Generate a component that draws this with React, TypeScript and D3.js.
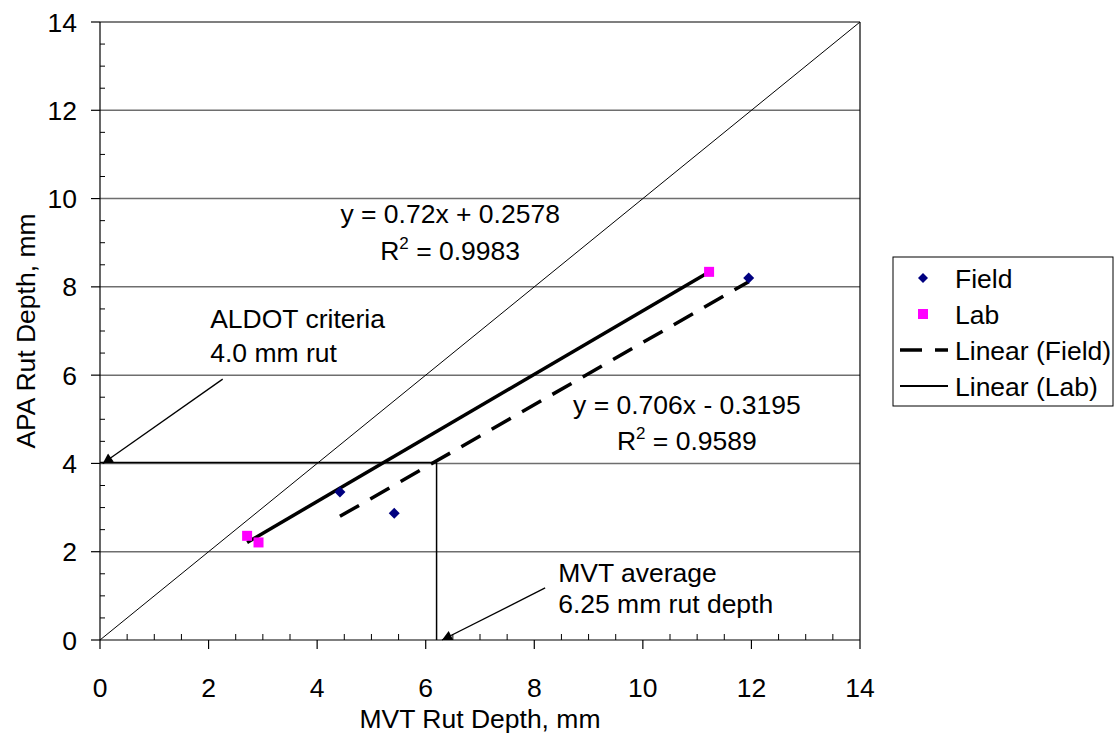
import React from "react";
import * as d3 from "d3";

const fieldX = [4.42, 5.42, 11.95];
const fieldY = [3.35, 2.87, 8.2];
const labX = [2.71, 2.92, 11.22];
const labY = [2.36, 2.21, 8.34];
const fieldFit = { slope: 0.706, intercept: -0.3195 };
const labFit = { slope: 0.72, intercept: 0.2578 };
const majorTicks = [0, 2, 4, 6, 8, 10, 12, 14];
const criteriaY = 4.0;
const mvtAverageX = 6.2;
const legendLabels = ["Field", "Lab", "Linear (Field)", "Linear (Lab)"];

const W = 1114;
const H = 737;
const FONT = "'Liberation Sans', Arial, sans-serif";
const FS = 26.5;

export default function App() {
  const x = d3.scaleLinear().domain([0, 14]).range([100, 860]);
  const y = d3.scaleLinear().domain([0, 14]).range([640, 22]);
  const minor = d3.range(0.5, 14, 0.5).filter((v) => v % 2 !== 0);

  const fitLine = (xs: number[], f: { slope: number; intercept: number }) => {
    const x0 = d3.min(xs)!;
    const x1 = d3.max(xs)!;
    return d3.line<number>()
      .x((v) => x(v))
      .y((v) => y(f.slope * v + f.intercept))([x0, x1]) as string;
  };

  const diamond = (cx: number, cy: number, r: number) =>
    `M${cx},${cy - r}L${cx + r},${cy}L${cx},${cy + r}L${cx - r},${cy}Z`;

  const legendRows = [278, 314, 350, 386];

  return (
    <svg width={W} height={H} style={{ position: "absolute", left: 0, top: 0, background: "#fff" }}
      fontFamily={FONT} fontSize={FS}>
      <defs>
        <marker id="arr" viewBox="0 0 10 10" refX="10" refY="5" markerWidth="12" markerHeight="10"
          markerUnits="userSpaceOnUse" orient="auto">
          <path d="M0,0L10,5L0,10Z" fill="#000" />
        </marker>
      </defs>
      {/* gridlines */}
      {majorTicks.filter((t) => t > 0 && t < 14).map((t) => (
        <line key={"g" + t} x1={x(0)} x2={x(14)} y1={y(t)} y2={y(t)} stroke="#6e6e6e" strokeWidth={1.5} />
      ))}
      {/* plot border top/right */}
      <line x1={x(0)} x2={x(14)} y1={y(14)} y2={y(14)} stroke="#000" strokeWidth={1.2} />
      <line x1={x(14)} x2={x(14)} y1={y(14)} y2={y(0)} stroke="#000" strokeWidth={1.2} />
      {/* axes */}
      <line x1={x(0)} x2={x(0)} y1={y(0)} y2={y(14)} stroke="#000" strokeWidth={1.2} />
      <line x1={x(0)} x2={x(14)} y1={y(0)} y2={y(0)} stroke="#000" strokeWidth={1.2} />
      {majorTicks.map((t) => (
        <g key={"mt" + t}>
          <line x1={x(0) - 9} x2={x(0)} y1={y(t)} y2={y(t)} stroke="#000" strokeWidth={1.2} />
          <line x1={x(t)} x2={x(t)} y1={y(0)} y2={y(0) + 9} stroke="#000" strokeWidth={1.2} />
          <text x={77} y={y(t)} dy="0.36em" textAnchor="end">{t}</text>
          <text x={x(t)} y={697} textAnchor="middle">{t}</text>
        </g>
      ))}
      {minor.map((t) => (
        <g key={"mn" + t}>
          <line x1={x(0)} x2={x(0) + 5} y1={y(t)} y2={y(t)} stroke="#000" strokeWidth={1} />
          <line x1={x(t)} x2={x(t)} y1={y(0)} y2={y(0) - 6} stroke="#000" strokeWidth={1} />
        </g>
      ))}
      {/* y = x line */}
      <line x1={x(0)} y1={y(0)} x2={x(14)} y2={y(14)} stroke="#000" strokeWidth={1} />
      {/* criteria lines */}
      <line x1={x(0)} x2={x(mvtAverageX)} y1={y(criteriaY) - 1} y2={y(criteriaY) - 1} stroke="#000" strokeWidth={1.5} />
      <line x1={x(mvtAverageX)} x2={x(mvtAverageX)} y1={y(criteriaY) - 1} y2={y(0)} stroke="#000" strokeWidth={1.5} />
      {/* trendlines */}
      <path d={fitLine(fieldX, fieldFit)} stroke="#000" strokeWidth={3.5} strokeDasharray="22,13" fill="none" />
      <path d={fitLine(labX, labFit)} stroke="#000" strokeWidth={3.5} fill="none" />
      {/* markers */}
      {fieldX.map((v, i) => (
        <path key={"f" + i} d={diamond(x(v), y(fieldY[i]), 5.5)} fill="#000080" />
      ))}
      {labX.map((v, i) => (
        <rect key={"l" + i} x={x(v) - 5} y={y(labY[i]) - 5} width={10} height={10} fill="#ff00ff" />
      ))}
      {/* arrows */}
      <line x1={x(2.26)} y1={y(5.91)} x2={x(0.05)} y2={y(4.0)} stroke="#000" strokeWidth={1.3} markerEnd="url(#arr)" />
      <line x1={x(8.2)} y1={y(1.18)} x2={x(6.3)} y2={y(0)} stroke="#000" strokeWidth={1.3} markerEnd="url(#arr)" />
      {/* annotations */}
      <text x={x(2.03)} y={y(7.07)}>ALDOT criteria</text>
      <text x={x(2.03)} y={y(6.3)}>4.0 mm rut</text>
      <text x={x(8.44)} y={y(1.31)}>MVT average</text>
      <text x={x(8.44)} y={y(0.61)}>6.25 mm rut depth</text>
      <text x={x(6.45)} y={y(9.45)} textAnchor="middle">y = 0.72x + 0.2578</text>
      <text x={x(6.45)} y={y(8.6)} textAnchor="middle">R<tspan fontSize={17} dy={-11}>2</tspan><tspan dy={11}> = 0.9983</tspan></text>
      <text x={x(10.81)} y={y(5.12)} textAnchor="middle">y = 0.706x - 0.3195</text>
      <text x={x(10.81)} y={y(4.3)} textAnchor="middle">R<tspan fontSize={17} dy={-11}>2</tspan><tspan dy={11}> = 0.9589</tspan></text>
      {/* axis titles */}
      <text x={x(7)} y={728} textAnchor="middle">MVT Rut Depth, mm</text>
      <text transform={`translate(35,331) rotate(-90)`} textAnchor="middle">APA Rut Depth, mm</text>
      {/* legend */}
      <rect x={893} y={257} width={220} height={149} fill="#fff" stroke="#000" strokeWidth={1} />
      <path d={diamond(923, legendRows[0], 5)} fill="#000080" />
      <rect x={918} y={legendRows[1] - 5} width={10} height={10} fill="#ff00ff" />
      <line x1={900} x2={948} y1={legendRows[2]} y2={legendRows[2]} stroke="#000" strokeWidth={3.5} strokeDasharray="22,13" />
      <line x1={900} x2={948} y1={legendRows[3]} y2={legendRows[3]} stroke="#000" strokeWidth={2} />
      {legendLabels.map((l, i) => (
        <text key={l} x={955} y={legendRows[i]} dy="0.36em">{l}</text>
      ))}
    </svg>
  );
}
